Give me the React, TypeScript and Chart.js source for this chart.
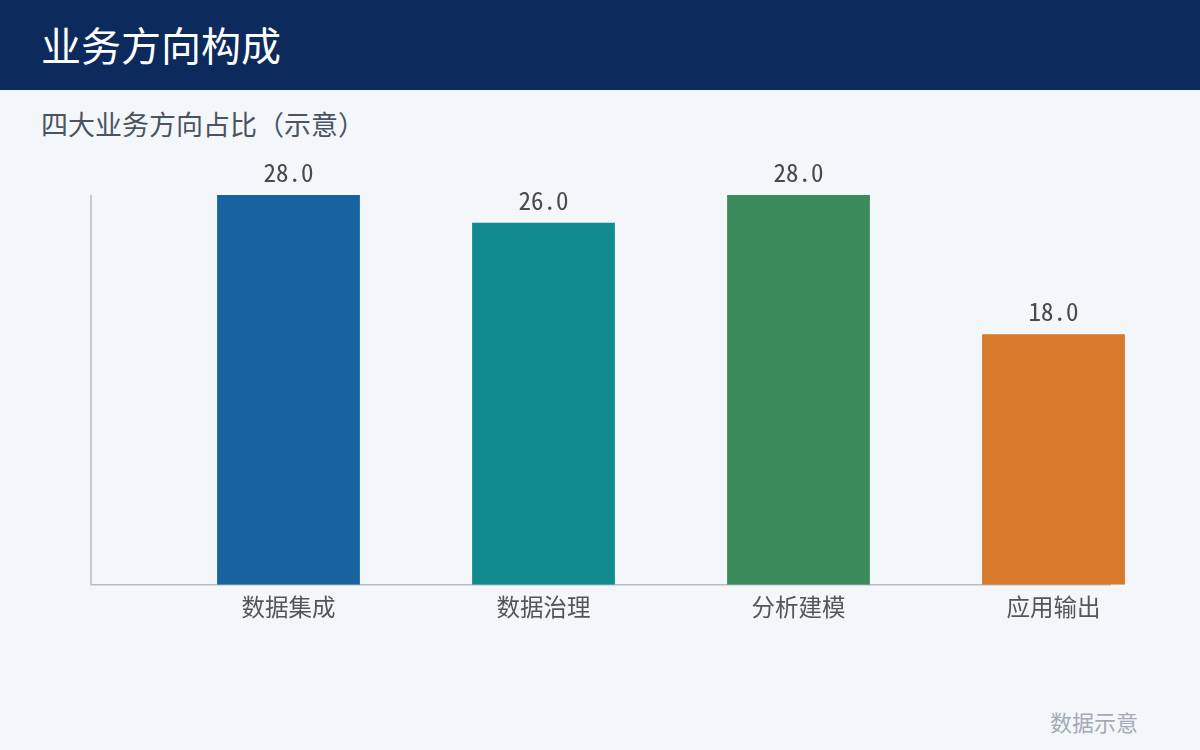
import React, { useEffect, useRef } from "react";
import { Chart, registerables } from "chart.js";

Chart.register(...registerables);

const categories = ["数据集成", "数据治理", "分析建模", "应用输出"];
const values = [28.0, 26.0, 28.0, 18.0];
const barColors = ["#1663A0", "#118B8E", "#3B8B5A", "#D7782A"];
const yMax = 28;

const CJK = "'Noto Sans CJK SC', 'Noto Sans', sans-serif";
const MONO = "'Noto Sans Mono CJK SC', 'DejaVu Sans Mono', monospace";

const axisPlugin = {
  id: "lAxis",
  beforeDatasetsDraw(chart: any) {
    const { ctx, chartArea } = chart;
    const shift = 70;
    ctx.save();
    ctx.strokeStyle = "#B3BCC8";
    ctx.lineWidth = 1.5;
    ctx.beginPath();
    ctx.moveTo(chartArea.left - shift, chartArea.top);
    ctx.lineTo(chartArea.left - shift, chartArea.bottom);
    ctx.lineTo(chartArea.right - shift, chartArea.bottom);
    ctx.stroke();
    ctx.restore();
  },
};

const valueLabelPlugin = {
  id: "valueLabels",
  afterDatasetsDraw(chart: any) {
    const { ctx } = chart;
    const meta = chart.getDatasetMeta(0);
    ctx.save();
    ctx.font = `25px ${MONO}`;
    ctx.fillStyle = "#4A4A4A";
    ctx.textAlign = "center";
    ctx.textBaseline = "alphabetic";
    meta.data.forEach((bar: any, i: number) => {
      ctx.fillText(values[i].toFixed(1), bar.x, bar.y - 13);
    });
    ctx.restore();
  },
};

export default function App() {
  const ref = useRef<HTMLCanvasElement>(null);
  useEffect(() => {
    document.body.style.margin = "0";
    const chart = new Chart(ref.current!, {
      type: "bar",
      data: {
        labels: categories,
        datasets: [
          {
            data: values,
            backgroundColor: barColors,
            borderWidth: 0,
            barPercentage: 0.56,
            categoryPercentage: 1,
          },
        ],
      },
      options: {
        animation: false,
        responsive: false,
        maintainAspectRatio: false,
        layout: { padding: { left: 161, right: 19, top: 45, bottom: 29 } },
        plugins: { legend: { display: false }, tooltip: { enabled: false } },
        scales: {
          x: {
            grid: { display: false },
            border: { display: false },
            ticks: {
              color: "#555555",
              font: { family: CJK, size: 23.5 },
              padding: 0,
            },
          },
          y: { display: false, min: 0, max: yMax },
        },
      },
      plugins: [axisPlugin, valueLabelPlugin],
    });
    return () => chart.destroy();
  }, []);

  return (
    <div
      style={{
        position: "fixed",
        left: 0,
        top: 0,
        width: 1200,
        height: 750,
        background: "#F4F7FA",
        overflow: "hidden",
        fontFamily: CJK,
      }}
    >
      <div
        style={{
          position: "absolute",
          left: 0,
          top: 0,
          width: 1200,
          height: 90,
          background: "#0D2A5C",
        }}
      />
      <div
        style={{
          position: "absolute",
          left: 41,
          top: 24,
          fontSize: 40,
          lineHeight: 1,
          color: "#FFFFFF",
          whiteSpace: "nowrap",
        }}
      >
        业务方向构成
      </div>
      <div
        style={{
          position: "absolute",
          left: 41,
          top: 110,
          fontSize: 27,
          lineHeight: 1,
          color: "#4A5361",
          whiteSpace: "nowrap",
        }}
      >
        四大业务方向占比（示意）
      </div>
      <canvas
        ref={ref}
        width={1200}
        height={500}
        style={{ position: "absolute", left: 0, top: 150, width: 1200, height: 500 }}
      />
      <div
        style={{
          position: "absolute",
          right: 62,
          top: 710,
          fontSize: 22,
          lineHeight: 1,
          color: "#A3ABB7",
          whiteSpace: "nowrap",
        }}
      >
        数据示意
      </div>
    </div>
  );
}
